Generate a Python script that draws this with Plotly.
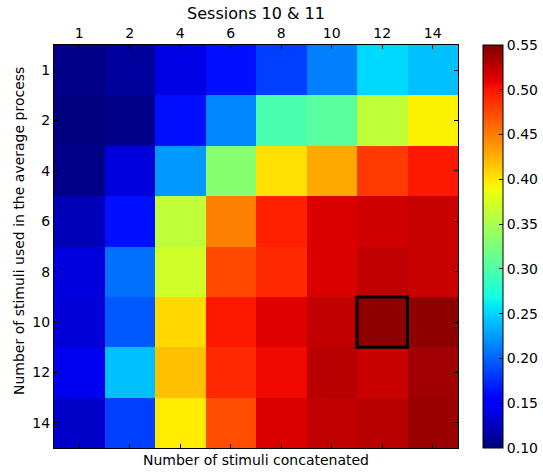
import plotly.graph_objects as go
import numpy as np

x_labels = ["1", "2", "4", "6", "8", "10", "12", "14"]
y_labels = ["1", "2", "4", "6", "8", "10", "12", "14"]

row_1 = [0.103, 0.111, 0.140, 0.163, 0.184, 0.212, 0.252, 0.241]
row_2 = [0.100, 0.103, 0.163, 0.216, 0.297, 0.306, 0.362, 0.395]
row_4 = [0.103, 0.137, 0.224, 0.332, 0.403, 0.429, 0.482, 0.498]
row_6 = [0.122, 0.163, 0.361, 0.449, 0.494, 0.515, 0.519, 0.522]
row_8 = [0.137, 0.206, 0.371, 0.475, 0.490, 0.515, 0.525, 0.522]
row_10 = [0.134, 0.195, 0.406, 0.498, 0.513, 0.525, 0.544, 0.544]
row_12 = [0.144, 0.241, 0.418, 0.490, 0.506, 0.528, 0.522, 0.537]
row_14 = [0.128, 0.184, 0.397, 0.472, 0.515, 0.525, 0.528, 0.540]
z_values = [row_1, row_2, row_4, row_6, row_8, row_10, row_12, row_14]

colorbar_ticks = [0.10, 0.15, 0.20, 0.25, 0.30, 0.35, 0.40, 0.45, 0.50, 0.55]
highlight_x = "12"
highlight_y = "10"


def mpl_jet(n=65):
    seg_r = [(0, 0), (0.35, 0), (0.66, 1), (0.89, 1), (1, 0.5)]
    seg_g = [(0, 0), (0.125, 0), (0.375, 1), (0.64, 1), (0.91, 0), (1, 0)]
    seg_b = [(0, 0.5), (0.11, 1), (0.34, 1), (0.65, 0), (1, 0)]

    def interp(seg, t):
        xs = [s[0] for s in seg]
        ys = [s[1] for s in seg]
        return float(np.interp(t, xs, ys))

    pts = sorted(set(list(np.linspace(0, 1, n)) + [s[0] for s in seg_r + seg_g + seg_b]))
    scale = []
    for t in pts:
        r = round(255 * interp(seg_r, t))
        g = round(255 * interp(seg_g, t))
        b = round(255 * interp(seg_b, t))
        scale.append([t, f"rgb({r},{g},{b})"])
    return scale


font_family = "DejaVu Sans"
W, H = 543, 473
L, R, T, B = 54, 85, 45, 25
plot_w = W - L - R

fig = go.Figure()
fig.add_trace(go.Heatmap(
    z=z_values,
    x=x_labels,
    y=y_labels,
    zmin=0.10,
    zmax=0.55,
    colorscale=mpl_jet(),
    xgap=0, ygap=0,
    colorbar=dict(
        x=1 + (483 - (W - R)) / plot_w, xanchor="left",
        y=0.5, yanchor="middle",
        lenmode="fraction", len=1,
        thickness=20,
        outlinecolor="black", outlinewidth=1,
        ticks="inside", ticklen=4, tickcolor="black",
        tickvals=colorbar_ticks, tickformat=".2f",
        tickfont=dict(family=font_family, size=14, color="black"),
        xpad=0, ypad=0,
    ),
))

xi = x_labels.index(highlight_x)
yi = y_labels.index(highlight_y)
fig.add_shape(type="rect", xref="x", yref="y",
              x0=xi - 0.5, x1=xi + 0.5, y0=yi - 0.5, y1=yi + 0.5,
              line=dict(color="black", width=3))

fig.update_layout(
    width=W, height=H,
    margin=dict(l=L, r=R, t=T, b=B, autoexpand=False),
    paper_bgcolor="white", plot_bgcolor="white",
    font=dict(family=font_family, size=14, color="black"),
    title=dict(text="Sessions 10 & 11", x=0.5, xanchor="center",
               xref="paper", y=1 - 13 / H, yanchor="middle",
               font=dict(size=16, family=font_family, color="black")),
    xaxis=dict(side="top", type="category", showline=True, mirror="ticks",
               linecolor="black", linewidth=1, ticks="inside", ticklen=4,
               tickcolor="black", showgrid=False, zeroline=False,
               tickfont=dict(size=14)),
    yaxis=dict(type="category", autorange="reversed", showline=True, mirror="ticks",
               linecolor="black", linewidth=1, ticks="inside", ticklen=4,
               tickcolor="black", showgrid=False, zeroline=False,
               tickfont=dict(size=14)),
    annotations=[
        dict(text="Number of stimuli concatenated", xref="paper", yref="paper",
             x=0.5, y=0, yshift=-(460 - (H - B)), xanchor="center", yanchor="middle",
             showarrow=False, font=dict(size=14, family=font_family)),
        dict(text="Number of stimuli used in the average process",
             xref="paper", yref="paper", textangle=-90,
             x=0, xshift=-(L - 19), y=1 - (231 - T) / (H - T - B),
             xanchor="center", yanchor="middle",
             showarrow=False, font=dict(size=14, family=font_family)),
    ],
)

fig.write_html("out.html")
